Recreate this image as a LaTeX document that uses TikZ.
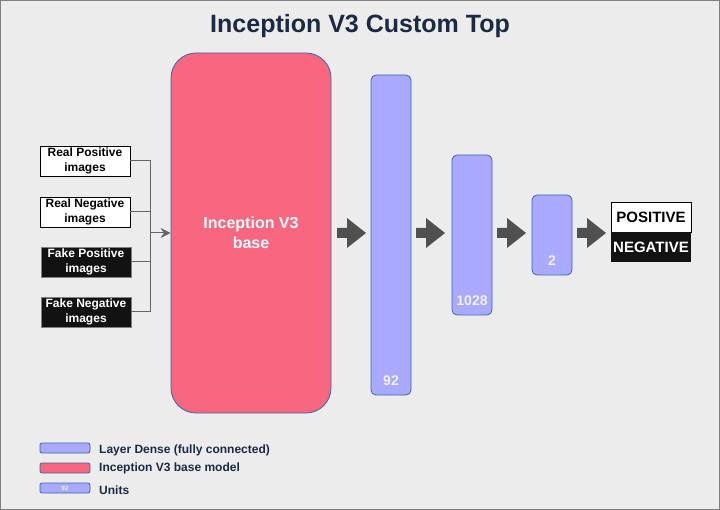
\documentclass[tikz,border=0pt]{standalone}
\usepackage{fontspec}
\setmainfont{Liberation Sans}
\usetikzlibrary{arrows.meta,positioning}
\definecolor{basepink}{RGB}{248,102,128}
\definecolor{densepurple}{RGB}{169,169,255}
\definecolor{edgeblue}{RGB}{54,106,170}
\definecolor{titlenavy}{RGB}{27,42,66}
\definecolor{paper}{RGB}{236,236,236}
\definecolor{arrowgrey}{RGB}{80,80,80}
\definecolor{wiregrey}{RGB}{100,100,100}
\tikzset{
  inbox/.style={
    draw=black,
    fill=white,
    text=black,
    line width=0.8pt,
    minimum width=90pt,
    minimum height=30pt,
    inner sep=0pt,
    align=center,
    font=\fontsize{12}{15}\selectfont\bfseries
  },
  inbox-dark/.style={inbox, draw=gray, fill=black!93, text=white},
  basebox/.style={
    draw=edgeblue,
    fill=basepink,
    line width=0.8pt,
    rounded corners=25pt,
    minimum width=160pt,
    minimum height=360pt,
    text=white,
    align=center,
    font=\fontsize{16}{20}\selectfont\bfseries
  },
  dense/.style={
    draw=edgeblue,
    fill=densepurple,
    line width=0.8pt,
    rounded corners=5pt,
    minimum width=40pt,
    inner sep=0pt
  },
  unitlabel/.style={
    inner sep=0pt,
    text=white!85!densepurple,
    font=\fontsize{14}{14}\selectfont\bfseries
  },
  wire/.style={wiregrey, line width=1pt},
  outbox/.style={
    minimum width=80pt,
    minimum height=30pt,
    inner sep=0pt,
    line width=0.8pt,
    font=\fontsize{15}{15}\selectfont\bfseries
  },
  keybox/.style={
    draw=edgeblue,
    line width=0.8pt,
    rounded corners=2pt,
    minimum width=50pt,
    minimum height=10pt,
    inner sep=0pt
  },
  keytext/.style={
    anchor=west,
    inner sep=0pt,
    text=titlenavy,
    font=\fontsize{12}{12}\selectfont\bfseries
  }
}

\begin{document}
\begin{tikzpicture}[x=1pt,y=-1pt]
  \useasboundingbox (0,0) rectangle (720,510);
  \fill[paper] (0,0) rectangle (720,510);
  \draw[gray, line width=1pt] (0.5,0.5) rectangle (719.5,509.5);

  \node[text=titlenavy, font=\fontsize{25}{25}\selectfont\bfseries] (title) at (360,26) {Inception V3 Custom Top};

  % inputs
  \node[inbox] (realpos) at (85,161) {Real Positive\\images};
  \node[inbox] (realneg) at (85,212) {Real Negative\\images};
  \node[inbox-dark] (fakepos) at (86,262) {Fake Positive\\images};
  \node[inbox-dark] (fakeneg) at (86,312) {Fake Negative\\images};

  \node[basebox] (base) at (251,233) {Inception V3\\base};

  \coordinate (trunk) at (150,233);
  \draw[wire] (realpos.east) -| (trunk);
  \draw[wire] (realneg.east) -| (trunk);
  \draw[wire] (fakepos.east) -| (trunk);
  \draw[wire] (fakeneg.east) -| (trunk);
  \draw[wire, -{Stealth[length=10pt,width=10pt]}] (trunk) -- (base.west);

  % dense layers
  \node[dense, minimum height=320pt] (d92) at (391,235) {};
  \node[dense, minimum height=160pt] (d1028) at (472,235) {};
  \node[dense, minimum height=80pt] (d2) at (552,235) {};
  \node[unitlabel, above=10pt of d92.south] (u92) {92};
  \node[unitlabel, above=10pt of d1028.south] (u1028) {1028};
  \node[unitlabel, above=10pt of d2.south] (u2) {2};

  \foreach \x in {337,416,497,577} {
    \fill[arrowgrey] (\x,228) -- ++(10,0) -- ++(0,-10) -- ++(19,15)
      -- ++(-19,15) -- ++(0,-10) -- ++(-10,0) -- cycle;
  }

  % output
  \node[outbox, draw=black, fill=white, text=black] (positive) at (651,217) {POSITIVE};
  \node[outbox, fill=black!93, text=white] (negative) at (651,247) {NEGATIVE};

  % legend
  \node[keybox, fill=densepurple] (keydense) at (65,448) {};
  \node[keybox, fill=basepink] (keybase) at (65,468) {};
  \node[keybox, fill=densepurple] (keyunits) at (65,488) {};
  \node[inner sep=0pt, text=white!85!densepurple, font=\fontsize{6}{6}\selectfont\bfseries] (keyunitsnum) at (keyunits) {92};
  \node[keytext] (densetext) at (99,450) {Layer Dense (fully connected)};
  \node[keytext] (basetext) at (99,468) {Inception V3 base model};
  \node[keytext] (unitstext) at (99,490) {Units};
\end{tikzpicture}
\end{document}
